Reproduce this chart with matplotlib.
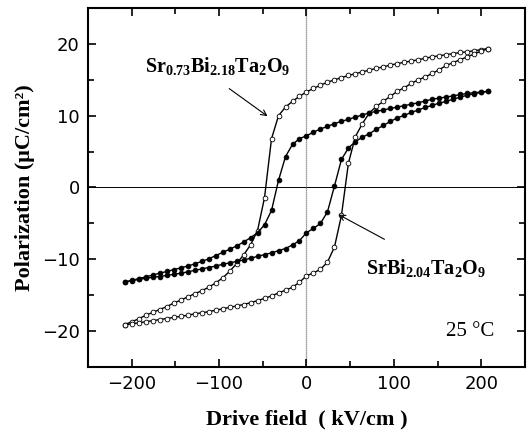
import matplotlib
matplotlib.use("Agg")
import matplotlib.pyplot as plt
from matplotlib.ticker import MultipleLocator

# Drive field sample points (kV/cm), shared by every branch
field = [-208, -200, -192, -184, -176, -168, -160, -152, -144, -136, -128,
         -120, -112, -104, -96, -88, -80, -72, -64, -56, -48, -40, -32,
         -24, -16, -8, 0, 8, 16, 24, 32, 40, 48, 56, 64, 72, 80, 88, 96,
         104, 112, 120, 128, 136, 144, 152, 160, 168, 176, 184, 192, 200,
         208]

# Sr0.73Bi2.18Ta2O9 (open circles), polarization in uC/cm2
sr073_down = [-19.1, -18.7, -18.3, -17.8, -17.4, -17.0, -16.6, -16.1, -15.7,
              -15.25, -14.8, -14.4, -13.9, -13.3, -12.6, -11.7, -10.6, -9.4,
              -8.0, -6.0, -1.4, 6.8, 10.0, 11.2, 12.0, 12.7, 13.3, 13.8,
              14.25, 14.65, 15.0, 15.3, 15.6, 15.85, 16.1, 16.35, 16.6, 16.8,
              17.05, 17.25, 17.45, 17.6, 17.8, 18.0, 18.2, 18.35, 18.5,
              18.65, 18.8, 18.9, 19.05, 19.2, 19.35]
sr073_up = [-19.1, -19.0, -18.85, -18.7, -18.55, -18.4, -18.25, -18.1,
            -17.95, -17.8, -17.6, -17.45, -17.3, -17.1, -16.9, -16.7, -16.5,
            -16.3, -16.05, -15.75, -15.45, -15.1, -14.7, -14.3, -13.9, -13.2,
            -12.3, -11.9, -11.4, -10.4, -8.3, -3.9, 3.4, 7.1, 8.9, 10.4, 11.3,
            12.0, 12.7, 13.4, 13.9, 14.5, 15.0, 15.4, 15.9, 16.4, 17.0, 17.4,
            17.8, 18.2, 18.6, 19.0, 19.35]

# SrBi2.04Ta2O9 (filled circles)
sr100_down = [-13.15, -12.95, -12.7, -12.45, -12.2, -11.95, -11.7, -11.45,
              -11.2, -10.95, -10.65, -10.3, -9.95, -9.5, -9.05, -8.6, -8.15,
              -7.6, -7.0, -6.3, -5.2, -3.2, 1.0, 4.3, 6.0, 6.8, 7.2, 7.7,
              8.15, 8.5, 8.9, 9.2, 9.5, 9.8, 10.1, 10.4, 10.6, 10.8, 11.0,
              11.2, 11.4, 11.6, 11.8, 12.05, 12.3, 12.45, 12.6, 12.75, 12.95,
              13.1, 13.2, 13.3, 13.4]
sr100_up = [-13.15, -13.0, -12.8, -12.65, -12.5, -12.4, -12.25, -12.1,
            -11.95, -11.75, -11.55, -11.35, -11.15, -10.95, -10.7, -10.5,
            -10.3, -10.1, -9.85, -9.6, -9.35, -9.1, -8.8, -8.5, -8.0, -7.4,
            -6.3, -5.7, -5.0, -3.4, 0.2, 3.9, 5.5, 6.4, 7.0, 7.5, 8.1, 8.65,
            9.2, 9.7, 10.05, 10.45, 10.8, 11.15, 11.45, 11.75, 12.0, 12.3,
            12.6, 12.85, 13.05, 13.25, 13.4]

serif = "Liberation Serif"
sans = "DejaVu Sans"
plt.rcParams["mathtext.fontset"] = "custom"
plt.rcParams["mathtext.rm"] = "Liberation Serif:bold"
plt.rcParams["mathtext.bf"] = "Liberation Serif:bold"
plt.rcParams["mathtext.it"] = "Liberation Serif:bold"

fig = plt.figure(figsize=(5.32, 4.36), dpi=100)
ax = fig.add_axes([0.1654, 0.1583, 0.8214, 0.8234])

ax.axhline(0, color="black", lw=0.7, zorder=1)
ax.axvline(0, color="#777777", lw=0.9, ls=(0, (1, 0.6)), zorder=1)

line_kw = dict(color="black", lw=1.0, markersize=3.4, markeredgewidth=0.6,
               zorder=3)
for branch in (sr073_down, sr073_up):
    ax.plot(field, branch, marker="o", markerfacecolor="white",
            markeredgecolor="black", **line_kw)
for branch in (sr100_down, sr100_up):
    ax.plot(field, branch, marker="o", markerfacecolor="black",
            markeredgecolor="black", **line_kw)

ax.set_xlim(-250, 250)
ax.set_ylim(-25, 25)
ax.xaxis.set_major_locator(MultipleLocator(100))
ax.xaxis.set_minor_locator(MultipleLocator(50))
ax.yaxis.set_major_locator(MultipleLocator(10))
ax.yaxis.set_minor_locator(MultipleLocator(5))
ax.tick_params(which="both", direction="in", top=True, right=True,
               width=1.2)
ax.tick_params(which="major", length=6, labelsize=13, pad=6)
ax.tick_params(which="minor", length=4)
for lab in ax.get_xticklabels() + ax.get_yticklabels():
    lab.set_fontfamily(sans)
for sp in ax.spines.values():
    sp.set_linewidth(1.5)

ax.set_xlabel("Drive field  ( kV/cm )", fontfamily=serif,
              fontweight="bold", fontsize=16, labelpad=12)
ax.set_ylabel("Polarization (\u03bcC/cm\u00b2)", fontfamily=serif,
              fontweight="bold", fontsize=16, labelpad=5)

ax.annotate("", xy=(-42, 9.7), xytext=(-91, 14.0),
            arrowprops=dict(arrowstyle="->", lw=0.8, color="black"))
ax.text(-102, 16.9, r"Sr$_{\mathbf{0.73}}$Bi$_{\mathbf{2.18}}$"
        r"Ta$_{\mathbf{2}}$O$_{\mathbf{9}}$",
        fontfamily=serif, fontweight="bold", fontsize=14.5,
        ha="center", va="center")
ax.annotate("", xy=(34, -3.6), xytext=(92, -7.4),
            arrowprops=dict(arrowstyle="->", lw=0.8, color="black"))
ax.text(137, -11.25, r"SrBi$_{\mathbf{2.04}}$Ta$_{\mathbf{2}}$"
        r"O$_{\mathbf{9}}$",
        fontfamily=serif, fontweight="bold", fontsize=14.5,
        ha="center", va="center")
ax.text(187, -20.1, "25 \u00b0C", fontfamily=serif, fontsize=15,
        ha="center", va="center")

fig.savefig("out.png", dpi=100)
